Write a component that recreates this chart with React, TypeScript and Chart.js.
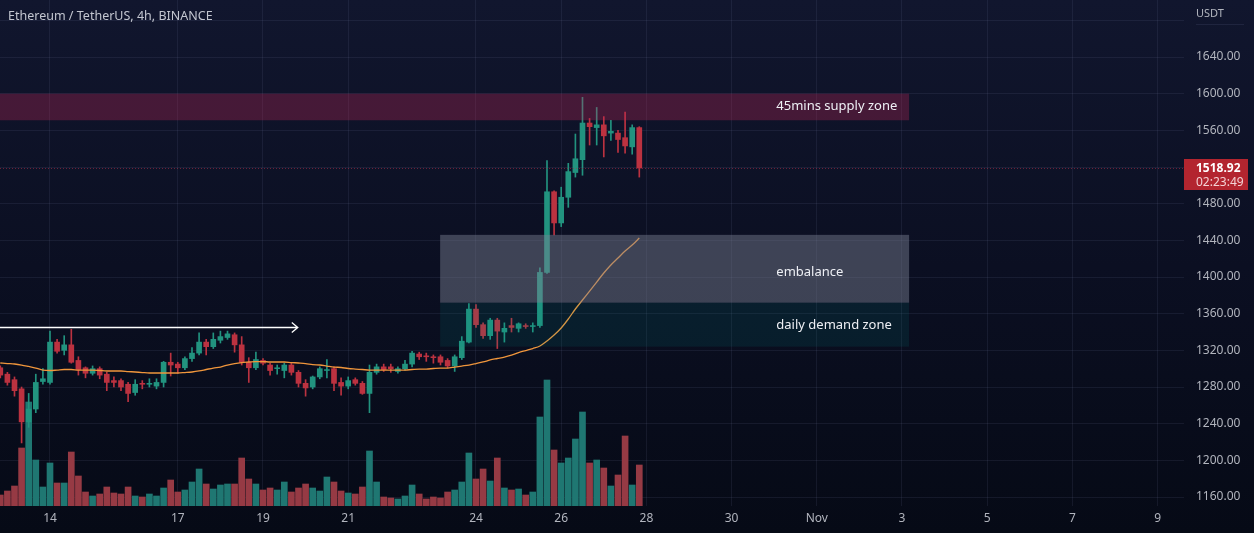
import React, { useEffect, useRef } from "react";
import { Chart, registerables } from "chart.js";

Chart.register(...registerables);

// ---- DATA (4h candles, Oct 12 20:00 -> Oct 27 20:00) ----
const candleOpen = [
  1301, 1294, 1288, 1278, 1242, 1256, 1286, 1285, 1329, 1320,
  1326, 1309, 1301, 1295, 1300, 1294, 1287, 1287, 1283, 1274,
  1284, 1283, 1281, 1285, 1307, 1305, 1301, 1311, 1317, 1329,
  1324, 1331, 1334, 1337, 1326, 1307, 1301, 1309, 1304, 1300,
  1298, 1304, 1296, 1284, 1280, 1291, 1298, 1300, 1285, 1281,
  1288, 1284, 1273, 1296, 1302, 1302, 1297, 1300, 1305, 1316,
  1314, 1313, 1313, 1309, 1303, 1312, 1329, 1365, 1348, 1336,
  1353, 1340, 1347, 1344, 1347, 1346, 1347, 1405, 1493, 1459,
  1487, 1514, 1528, 1568, 1563, 1566, 1557, 1557, 1552, 1542,
  1563,
];
const candleHigh = [
  1303, 1296, 1291, 1280, 1273, 1294, 1300, 1341, 1332, 1336,
  1343, 1313, 1302, 1303, 1302, 1296, 1291, 1289, 1285, 1288,
  1287, 1289, 1289, 1308, 1317, 1307, 1313, 1323, 1339, 1332,
  1339, 1341, 1341, 1339, 1335, 1312, 1318, 1311, 1306, 1304,
  1306, 1306, 1298, 1288, 1292, 1302, 1310, 1302, 1290, 1291,
  1290, 1286, 1304, 1305, 1305, 1305, 1302, 1309, 1319, 1318,
  1317, 1315, 1315, 1311, 1315, 1335, 1371, 1370, 1350, 1355,
  1355, 1350, 1355, 1350, 1349, 1350, 1410, 1527, 1494, 1498,
  1524, 1556, 1596, 1573, 1585, 1575, 1571, 1560, 1580, 1566,
  1564,
];
const candleLow = [
  1290, 1282, 1270, 1219, 1236, 1252, 1283, 1283, 1317, 1315,
  1306, 1293, 1290, 1293, 1289, 1276, 1280, 1276, 1264, 1271,
  1278, 1280, 1278, 1280, 1292, 1295, 1299, 1308, 1315, 1315,
  1322, 1328, 1332, 1318, 1304, 1285, 1299, 1304, 1293, 1294,
  1290, 1293, 1280, 1270, 1278, 1289, 1290, 1276, 1271, 1278,
  1282, 1272, 1252, 1294, 1297, 1296, 1295, 1298, 1302, 1310,
  1308, 1306, 1304, 1301, 1297, 1310, 1328, 1345, 1333, 1332,
  1322, 1329, 1340, 1340, 1344, 1340, 1345, 1404, 1446, 1455,
  1476, 1509, 1511, 1544, 1544, 1531, 1549, 1536, 1535, 1534,
  1509,
];
const candleClose = [
  1293, 1285, 1276, 1242, 1256, 1285, 1289, 1329, 1319, 1326,
  1307, 1299, 1295, 1300, 1293, 1285, 1285, 1280, 1273, 1283,
  1283, 1284, 1285, 1307, 1304, 1301, 1311, 1317, 1329, 1324,
  1332, 1335, 1338, 1326, 1307, 1301, 1310, 1306, 1298, 1301,
  1304, 1296, 1284, 1279, 1291, 1300, 1299, 1284, 1281, 1287,
  1284, 1273, 1296, 1302, 1299, 1300, 1300, 1305, 1317, 1313,
  1313, 1312, 1307, 1303, 1313, 1330, 1365, 1348, 1336, 1353,
  1341, 1344, 1345, 1349, 1346, 1347, 1405, 1493, 1459, 1487,
  1515, 1529, 1568, 1564, 1566, 1554, 1559, 1550, 1543, 1563,
  1518.92,
];
const volumeK = [
  11, 15, 20, 58, 104, 46, 19, 43, 23, 23,
  54, 30, 14, 10, 12, 19, 13, 12, 19, 10,
  9, 12, 10, 18, 26, 14, 16, 24, 37, 22,
  17, 21, 22, 22, 48, 27, 22, 16, 18, 16,
  24, 14, 18, 22, 18, 15, 29, 24, 15, 13,
  12, 19, 55, 24, 9, 8, 7, 10, 21, 12,
  7, 9, 8, 14, 16, 24, 53, 27, 37, 25,
  48, 18, 16, 17, 11, 14, 89, 126, 56, 43,
  48, 67, 94, 43, 46, 38, 20, 31, 70, 21,
  41,
];
const maLine = [
  1306.2, 1305.6, 1305.1, 1304.0, 1302.4, 1300.7, 1298.5, 1298.0, 1298.5, 1299.1,
  1299.1, 1298.5, 1298.5, 1298.5, 1298.0, 1297.5, 1297.5, 1297.5, 1296.9, 1296.4,
  1295.8, 1295.3, 1295.3, 1295.3, 1295.3, 1295.3, 1295.8, 1296.4, 1297.5, 1299.1,
  1300.7, 1301.8, 1304.0, 1305.6, 1306.7, 1307.3, 1307.8, 1307.8, 1307.3, 1307.3,
  1307.3, 1306.7, 1306.2, 1305.6, 1304.5, 1304.0, 1302.9, 1301.8, 1301.3, 1300.2,
  1299.6, 1299.1, 1298.5, 1298.5, 1298.5, 1298.5, 1298.5, 1298.5, 1299.1, 1299.6,
  1299.6, 1300.2, 1300.7, 1300.7, 1301.8, 1302.9, 1304.0, 1305.6, 1307.3, 1309.5,
  1311.1, 1312.7, 1314.9, 1317.6, 1319.8, 1322.0, 1324.7, 1330.2, 1336.7, 1344.4,
  1354.2, 1365.1, 1374.9, 1384.7, 1394.5, 1404.4, 1413.1, 1420.7, 1428.4, 1434.9,
  1442.5,
];
const dateTickIndex = [7, 25, 37, 49, 67, 79, 91, 103, 115, 127, 139, 151, 163];
const dateTickLabels = ["14", "17", "19", "21", "24", "26", "28", "30", "Nov", "3", "5", "7", "9"];
const priceTicks = [1160, 1200, 1240, 1280, 1320, 1360, 1400, 1440, 1480, 1520, 1560, 1600, 1640, 1680];
const hiddenPriceTicks = [1520, 1680];

const zoneNames = ["45mins supply zone", "embalance", "daily demand zone"];
const zoneStart = [-5, 61.95, 61.95];
const zoneEnd = [128, 128, 128];
const zoneTop = [1600, 1446, 1372];
const zoneBottom = [1571, 1372, 1324];
const zoneLabelAt = [109.3, 109.3, 109.3];
const zoneLabelPrice = [1586, 1405, 1347];
const zoneColors = ["rgba(200,40,90,0.30)", "rgba(125,130,148,0.45)", "rgba(0,150,136,0.12)"];

const arrowPrice = 1345.5;
const arrowFrom = -5;
const arrowTo = 41.9;

const lastPrice = 1518.92;
const countdown = "02:23:49";
const titleText = "Ethereum / TetherUS, 4h, BINANCE";
const currencyText = "USDT";

// ---- STYLE ----
const FONT = '"Noto Sans", "Open Sans", sans-serif';
const UP = "#22937f";
const DOWN = "#bb3240";
const UP_VOL = "#1f7772";
const DOWN_VOL = "#963a44";
const GRID = "rgba(120,130,170,0.12)";
const TXT = "#b2b5be";

const overlay = {
  id: "overlay",
  afterDatasetsDraw(chart: any) {
    const { ctx, chartArea } = chart;
    const x = chart.scales.x;
    const y = chart.scales.y;
    ctx.save();
    ctx.beginPath();
    ctx.rect(chartArea.left, chartArea.top, chartArea.right - chartArea.left, chartArea.bottom - chartArea.top);
    ctx.clip();
    // zones
    zoneNames.forEach((_, k) => {
      const x1 = x.getPixelForValue(zoneStart[k]);
      const x2 = x.getPixelForValue(zoneEnd[k]);
      const y1 = y.getPixelForValue(zoneTop[k]);
      const y2 = y.getPixelForValue(zoneBottom[k]);
      ctx.fillStyle = zoneColors[k];
      ctx.fillRect(x1, y1, x2 - x1, y2 - y1);
    });
    // zone labels
    ctx.font = `13px ${FONT}`;
    ctx.fillStyle = "#eef0f5";
    ctx.textAlign = "left";
    ctx.textBaseline = "middle";
    zoneNames.forEach((name, k) => {
      ctx.fillText(name, x.getPixelForValue(zoneLabelAt[k]), y.getPixelForValue(zoneLabelPrice[k]));
    });
    // arrow
    const ay = Math.round(y.getPixelForValue(arrowPrice)) + 0.5;
    const ax1 = x.getPixelForValue(arrowFrom);
    const ax2 = x.getPixelForValue(arrowTo);
    ctx.strokeStyle = "#ffffff";
    ctx.lineWidth = 1.3;
    ctx.beginPath();
    ctx.moveTo(ax1, ay);
    ctx.lineTo(ax2, ay);
    ctx.moveTo(ax2 - 6, ay - 5);
    ctx.lineTo(ax2, ay);
    ctx.lineTo(ax2 - 6, ay + 5);
    ctx.stroke();
    // last price dotted line
    const py = Math.round(y.getPixelForValue(lastPrice)) + 0.5;
    ctx.strokeStyle = "rgba(170,45,70,0.6)";
    ctx.lineWidth = 1;
    ctx.setLineDash([1, 2]);
    ctx.beginPath();
    ctx.moveTo(chartArea.left, py);
    ctx.lineTo(chartArea.right, py);
    ctx.stroke();
    ctx.setLineDash([]);
    ctx.restore();
  },
  afterDraw(chart: any) {
    const { ctx, chartArea } = chart;
    const y = chart.scales.y;
    ctx.save();
    // price label box
    const py = Math.round(y.getPixelForValue(lastPrice));
    ctx.fillStyle = "#b3252f";
    ctx.fillRect(chartArea.right, py - 9, 64, 31);
    ctx.textAlign = "left";
    ctx.textBaseline = "middle";
    ctx.fillStyle = "#ffffff";
    ctx.font = `bold 12px ${FONT}`;
    ctx.fillText(lastPrice.toFixed(2), chartArea.right + 12, py + 1);
    ctx.fillStyle = "#f3d2d4";
    ctx.font = `12px ${FONT}`;
    ctx.fillText(countdown, chartArea.right + 12, py + 15);
    // currency
    ctx.fillStyle = TXT;
    ctx.font = `11px ${FONT}`;
    ctx.fillText(currencyText, chartArea.right + 12, 14);
    ctx.fillStyle = "rgba(120,130,170,0.15)";
    ctx.fillRect(chartArea.right + 12, 24, 48, 1);
    // title
    ctx.fillStyle = "#c3c6d0";
    ctx.font = `12.5px ${FONT}`;
    ctx.fillText(titleText, 8, 16);
    ctx.restore();
  },
};

export default function App() {
  const ref = useRef<HTMLCanvasElement>(null);
  useEffect(() => {
    const canvas = ref.current;
    if (!canvas) return;
    Chart.defaults.font.family = FONT;
    const idx = candleOpen.map((_, i) => i);
    const up = idx.map((i) => candleClose[i] >= candleOpen[i]);
    const chart = new Chart(canvas, {
      type: "bar",
      data: {
        datasets: [
          {
            type: "bar",
            label: "Volume",
            yAxisID: "yVol",
            data: idx.map((i) => ({ x: i, y: volumeK[i] })) as any,
            backgroundColor: idx.map((i) => (up[i] ? UP_VOL : DOWN_VOL)),
            barThickness: 6,
            grouped: false,
            borderWidth: 0,
            order: 4,
          },
          {
            type: "bar",
            label: "Wick",
            yAxisID: "y",
            data: idx.map((i) => ({ x: i, y: [candleLow[i], candleHigh[i]] })) as any,
            backgroundColor: idx.map((i) => (up[i] ? UP : DOWN)),
            barThickness: 1,
            grouped: false,
            borderWidth: 0,
            order: 3,
          },
          {
            type: "bar",
            label: "Body",
            yAxisID: "y",
            data: idx.map((i) => ({ x: i, y: [candleOpen[i], candleClose[i]] })) as any,
            backgroundColor: idx.map((i) => (up[i] ? UP : DOWN)),
            barThickness: 5,
            grouped: false,
            borderWidth: 0,
            order: 2,
          },
          {
            type: "line",
            label: "MA",
            yAxisID: "y",
            data: idx.map((i) => ({ x: i, y: maLine[i] })) as any,
            borderColor: "#f0963c",
            borderWidth: 1.3,
            pointRadius: 0,
            cubicInterpolationMode: "monotone",
            order: 1,
          } as any,
        ],
      },
      options: {
        animation: false,
        responsive: false,
        devicePixelRatio: 1,
        layout: { padding: 0 },
        plugins: { legend: { display: false }, tooltip: { enabled: false } },
        scales: {
          x: {
            type: "linear",
            min: -0.042,
            max: 166.72,
            offset: false,
            position: "bottom",
            grid: { color: GRID, drawTicks: false, offset: false },
            border: { display: false },
            ticks: {
              color: TXT,
              font: { size: 12 },
              padding: 5,
              autoSkip: false,
              maxRotation: 0,
              callback: (_v: any, i: number) => dateTickLabels[i] ?? "",
            },
            afterBuildTicks: (s: any) => {
              s.ticks = dateTickIndex.map((v) => ({ value: v }));
            },
            afterFit: (s: any) => {
              s.height = 27;
              s.paddingLeft = 0;
              s.paddingRight = 0;
            },
          },
          y: {
            type: "linear",
            position: "right",
            min: 1150.2,
            max: 1702.2,
            grid: { color: GRID, drawTicks: false },
            border: { display: false },
            ticks: {
              color: TXT,
              font: { size: 12 },
              padding: 12,
              callback: (v: any) => (hiddenPriceTicks.includes(Number(v)) ? "" : Number(v).toFixed(2)),
            },
            afterBuildTicks: (s: any) => {
              s.ticks = priceTicks.map((v) => ({ value: v }));
            },
            afterFit: (s: any) => {
              s.width = 70;
              s.paddingTop = 0;
              s.paddingBottom = 0;
            },
          },
          yVol: { type: "linear", display: false, min: 0, max: 506 },
        },
      } as any,
      plugins: [overlay],
    });
    return () => chart.destroy();
  }, []);
  return (
    <div
      style={{
        position: "absolute",
        left: 0,
        top: 0,
        width: 1254,
        height: 533,
        background: "linear-gradient(180deg, #11162e 0%, #0b0f22 50%, #060a16 100%)",
        overflow: "hidden",
      }}
    >
      <canvas ref={ref} width={1254} height={533} style={{ display: "block", width: 1254, height: 533 }} />
    </div>
  );
}
